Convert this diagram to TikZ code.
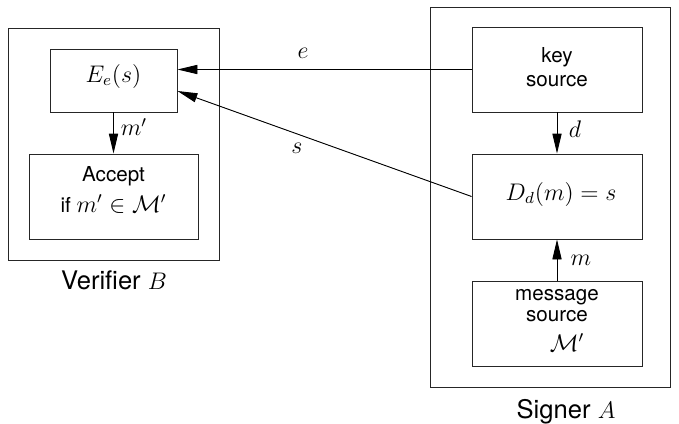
\documentclass[tikz,border=0pt]{standalone}
\usepackage{fontspec}
\setmainfont{TeX Gyre Heros}
\usetikzlibrary{arrows.meta,calc}
\newcommand\mymath[1]{{\fontsize{11.5}{12}\selectfont$#1$}}
\begin{document}
\begin{tikzpicture}[x=0.5pt,y=-0.5pt,
  every path/.style={line width=0.45pt},
  box/.style={draw=black!85, inner sep=0pt},
  txt/.style={anchor=base, inner sep=0pt, font=\fontsize{10.3}{12}\selectfont},
  lbl/.style={anchor=base, inner sep=0pt, font=\fontsize{12.8}{14}\selectfont},
  arr/.style={-{Triangle[length=10pt,width=4.6pt]}, draw=black, fill=black}]
\useasboundingbox (0,0) rectangle (679,423);
% frames
\node[box, minimum width=105.5pt, minimum height=116pt] (verifier) at (113.5,144) {};
\node[box, minimum width=120pt, minimum height=190pt] (signer) at (550,197) {};
% boxes
\node[box, minimum width=63.5pt, minimum height=31.5pt] (Ee) at (113.5,80.5) {};
\node[box, minimum width=84.5pt, minimum height=42.5pt] (acc) at (113.5,196.5) {};
\node[box, minimum width=85pt, minimum height=42.5pt] (key) at (557,69.5) {};
\node[box, minimum width=85pt, minimum height=42.5pt] (D) at (557,196.5) {};
\node[box, minimum width=85pt, minimum height=42.5pt] (msg) at (557,323.5) {};
% texts
\node[txt] (tEe) at (113.5,82) {\mymath{E_e(s)}};
\node[txt] (tacc1) at (113.5,181) {Accept};
\node[txt] (tacc2) at (113.5,212.5) {if \mymath{m'\in\mathcal{M}'}};
\node[txt] (tkey1) at (557,62) {key};
\node[txt] (tkey2) at (557,86) {source};
\node[txt] (tD) at (561,200) {\mymath{D_d(m)=s}};
\node[txt] (tmsg1) at (557,300) {message};
\node[txt] (tmsg2) at (557,321) {source};
\node[txt] (tmsg3) at (567,351) {\mymath{\mathcal{M}'}};
\node[lbl] (lver) at (114,289) {Verifier $B$};
\node[lbl] (lsig) at (566,418) {Signer $A$};
% connectors
\coordinate (sin) at ($(Ee.east)+(0,10.5)$);
\draw[arr] (key.west) -- (key.west -| Ee.east);
\draw[arr] (D.west) -- (sin);
\draw[arr] (Ee.south) -- (acc.north);
\draw[arr] (key.south) -- (D.north);
\draw[arr] (msg.north) -- (D.south);
% connector labels
\node[txt, anchor=center] (le) at (303,53) {\mymath{e}};
\node[txt, anchor=center] (ls) at (297,148) {\mymath{s}};
\node[txt, anchor=center] (lm1) at (134,127) {\mymath{m'}};
\node[txt, anchor=center] (ld) at (575,129) {\mymath{d}};
\node[txt, anchor=center] (lm) at (581,260) {\mymath{m}};
\end{tikzpicture}
\end{document}
